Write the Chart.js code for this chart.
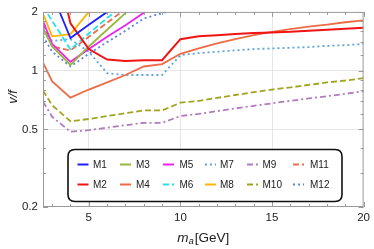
<!DOCTYPE html>
<html>
<head>
<meta charset="utf-8">
<script src="https://cdn.jsdelivr.net/npm/chart.js@4.4.1/dist/chart.umd.min.js"></script>
<style>
  html, body { margin: 0; padding: 0; background: #fff; }
  #wrap { width: 374px; height: 249px; }
</style>
</head>
<body>
<div id="wrap"><canvas id="chart"></canvas></div>
<script>
// axion mass grid [GeV]
const massValues = [2.5, 3, 4, 5, 6, 7, 8, 9, 10, 11, 12, 13, 14, 15, 16, 17, 18, 19, 20];

// v/f for each model (values above 2 leave the frame and get clipped)
const m1 = [3.5, 2.47, 1.47, 1.72, 2.0, 2.35];
const m2 = [8, 4.3, 1.75, 1.29, 1.14, 1.12, 1.13, 1.13, 1.45, 1.5, 1.52, 1.54, 1.56, 1.57, 1.58, 1.6, 1.62, 1.64, 1.66];
const m3 = [1.65, 1.33, 1.07, 1.33, 1.62, 1.97, 2.4];
const m4 = [1.1, 0.88, 0.727, 0.8, 0.87, 0.95, 1.05, 1.08, 1.22, 1.3, 1.38, 1.45, 1.52, 1.58, 1.63, 1.68, 1.72, 1.77, 1.81];
const m5 = [1.8, 1.37, 1.11, 1.29, 1.49, 1.71, 1.98, 2.3];
const m6 = [2.13, 1.8, 1.285, 1.55, 1.86, 2.2];
const m7 = [1.55, 1.42, 1.45, 1.25, 0.97, 0.95, 0.95, 0.95, 1.2, 1.23, 1.25, 1.27, 1.29, 1.3, 1.31, 1.32, 1.34, 1.35, 1.37];
const m8 = [1.96, 1.5, 1.54, 2.0, 2.6];
const m9 = [0.694, 0.58, 0.486, 0.495, 0.51, 0.525, 0.54, 0.54, 0.585, 0.6, 0.62, 0.64, 0.66, 0.68, 0.7, 0.72, 0.74, 0.76, 0.785];
const m10 = [0.79, 0.665, 0.55, 0.565, 0.585, 0.605, 0.625, 0.625, 0.685, 0.7, 0.725, 0.75, 0.775, 0.8, 0.82, 0.845, 0.87, 0.89, 0.915];
const m11 = [1.75, 1.33, 1.27, 1.49, 1.76, 2.07];
const m12 = [1.5, 1.25, 1.05, 1.22, 1.4, 1.6, 1.85, 1.97, 2.1];

const seriesNames = ["M1", "M2", "M3", "M4", "M5", "M6", "M7", "M8", "M9", "M10", "M11", "M12"];
const seriesValues = [m1, m2, m3, m4, m5, m6, m7, m8, m9, m10, m11, m12];

const xTickLabels = [5, 10, 15, 20];
const yTickLabels = [0.2, 0.5, 1, 2];
const xMinorTicks = [3, 4, 6, 7, 8, 9, 11, 12, 13, 14, 16, 17, 18, 19];
const yMinorTicks = [0.3, 0.4, 0.6, 0.7, 0.8, 0.9, 1.2, 1.4, 1.6, 1.8];

const colors = ["#1f1fff", "#f01414", "#97b63c", "#ef6b45", "#f023f0", "#22e4ee",
                "#5fa3da", "#ffb400", "#b07cbe", "#a3a322", "#ea6f4c", "#5c84e0"];
const dashes = [[], [], [], [], [], [6, 3], [2, 3], [], [6, 3, 2, 3], [6, 3], [6, 3], [2, 3]];

const FONT = "'Liberation Sans', Arial, sans-serif";

function buildDatasets() {
  return seriesNames.map((name, i) => {
    const vals = seriesValues[i];
    const points = [];
    vals.forEach((v, j) => {
      if (v !== null) points.push({ x: massValues[j], y: v });
    });
    return {
      label: name,
      data: points,
      borderColor: colors[i],
      backgroundColor: colors[i],
      borderDash: dashes[i],
      borderWidth: i === 1 ? 2 : 1.8,
      pointRadius: 0,
      tension: 0,
      fill: false,
      clip: 0,
    };
  });
}

// frame, inward ticks, axis titles and the boxed legend
const framePlugin = {
  id: "frame",
  afterDraw(chart) {
    const ctx = chart.ctx;
    const area = chart.chartArea;
    const xs = chart.scales.x;
    const ys = chart.scales.y;

    ctx.save();
    ctx.strokeStyle = "#9a9a9a";
    ctx.lineWidth = 1;
    ctx.strokeRect(area.left + 0.5, area.top + 0.5, area.right - area.left - 1, area.bottom - area.top - 1);

    const tick = (x1, y1, x2, y2) => {
      ctx.beginPath();
      ctx.moveTo(x1, y1);
      ctx.lineTo(x2, y2);
      ctx.stroke();
    };
    xTickLabels.concat(xMinorTicks).forEach((v) => {
      const len = xTickLabels.includes(v) ? 5 : 3;
      const px = Math.round(xs.getPixelForValue(v)) + 0.5;
      tick(px, area.bottom, px, area.bottom - len);
      tick(px, area.top, px, area.top + len);
    });
    yTickLabels.concat(yMinorTicks).forEach((v) => {
      const len = yTickLabels.includes(v) ? 5 : 3;
      const py = Math.round(ys.getPixelForValue(v)) + 0.5;
      tick(area.left, py, area.left + len, py);
      tick(area.right, py, area.right - len, py);
    });

    // axis titles
    ctx.fillStyle = "#222";
    ctx.textBaseline = "middle";
    ctx.save();
    ctx.translate(13, 97);
    ctx.rotate(-Math.PI / 2);
    ctx.textAlign = "center";
    ctx.font = "italic 13px " + FONT;
    ctx.fillText("v/f", 0, 0);
    ctx.restore();

    const cx = (area.left + area.right) / 2;
    const ty = 238;
    ctx.font = "italic 13.5px " + FONT;
    const wm = ctx.measureText("m").width;
    ctx.font = "italic 9.5px " + FONT;
    const wa = ctx.measureText("a").width;
    ctx.font = "13.5px " + FONT;
    const wg = ctx.measureText("[GeV]").width;
    let tx = cx - (wm + wa + 1 + wg) / 2;
    ctx.textAlign = "left";
    ctx.font = "italic 13.5px " + FONT;
    ctx.fillText("m", tx, ty);
    tx += wm;
    ctx.font = "italic 9.5px " + FONT;
    ctx.fillText("a", tx, ty + 3);
    tx += wa + 1;
    ctx.font = "13.5px " + FONT;
    ctx.fillText("[GeV]", tx, ty);

    // legend box
    const bx = 68, by = 149.5, bw = 274, bh = 52, r = 7;
    ctx.beginPath();
    ctx.moveTo(bx + r, by);
    ctx.lineTo(bx + bw - r, by);
    ctx.quadraticCurveTo(bx + bw, by, bx + bw, by + r);
    ctx.lineTo(bx + bw, by + bh - r);
    ctx.quadraticCurveTo(bx + bw, by + bh, bx + bw - r, by + bh);
    ctx.lineTo(bx + r, by + bh);
    ctx.quadraticCurveTo(bx, by + bh, bx, by + bh - r);
    ctx.lineTo(bx, by + r);
    ctx.quadraticCurveTo(bx, by, bx + r, by);
    ctx.closePath();
    ctx.fillStyle = "#fff";
    ctx.fill();
    ctx.strokeStyle = "#111";
    ctx.lineWidth = 1.6;
    ctx.stroke();

    const sampleX = [77.5, 120, 163, 205, 247, 293];
    const labelX = [93, 136, 179.5, 220, 262.5, 310];
    const rowY = [164.5, 184.5];
    ctx.font = "10px " + FONT;
    ctx.textAlign = "left";
    chart.data.datasets.forEach((ds, i) => {
      const col = Math.floor(i / 2);
      const row = i % 2;
      const y = rowY[row];
      ctx.strokeStyle = ds.borderColor;
      ctx.lineWidth = 2;
      ctx.setLineDash(ds.borderDash);
      tick(sampleX[col], y, sampleX[col] + 11, y);
      ctx.setLineDash([]);
      ctx.fillStyle = "#222";
      ctx.fillText(ds.label, labelX[col], y + 0.5);
    });
    ctx.restore();
  },
};

function drawChart() {
  const ctx = document.getElementById("chart").getContext("2d");
  new Chart(ctx, {
    type: "line",
    data: { datasets: buildDatasets() },
    options: {
      responsive: true,
      maintainAspectRatio: false,
      animation: false,
      layout: { padding: { top: 6.7, right: 9, left: 0, bottom: 0 } },
      plugins: { legend: { display: false }, tooltip: { enabled: false } },
      scales: {
        x: {
          type: "linear",
          min: 2.5,
          max: 20,
          afterBuildTicks: (scale) => {
            scale.ticks = xTickLabels.map((v) => ({ value: v }));
          },
          afterFit: (scale) => { scale.height = 42; },
          ticks: {
            color: "#222",
            padding: 4,
            maxRotation: 0,
            font: { family: FONT, size: 11.5 },
            callback: (v) => String(v),
          },
          grid: {
            drawTicks: false,
            color: (c) => (c.tick && c.tick.value < 20 ? "#e6e6e6" : "rgba(0,0,0,0)"),
          },
          border: { display: false },
        },
        y: {
          type: "logarithmic",
          min: 0.2,
          max: 2,
          afterBuildTicks: (scale) => {
            scale.ticks = yTickLabels.map((v) => ({ value: v }));
          },
          afterFit: (scale) => { scale.width = 43; },
          ticks: {
            color: "#222",
            padding: 5,
            font: { family: FONT, size: 11.5 },
            callback: (v) => String(v),
          },
          grid: {
            drawTicks: false,
            color: (c) => (c.tick && (c.tick.value === 0.5 || c.tick.value === 1) ? "#e6e6e6" : "rgba(0,0,0,0)"),
          },
          border: { display: false },
        },
      },
    },
    plugins: [framePlugin],
  });
}

drawChart();
</script>
</body>
</html>
